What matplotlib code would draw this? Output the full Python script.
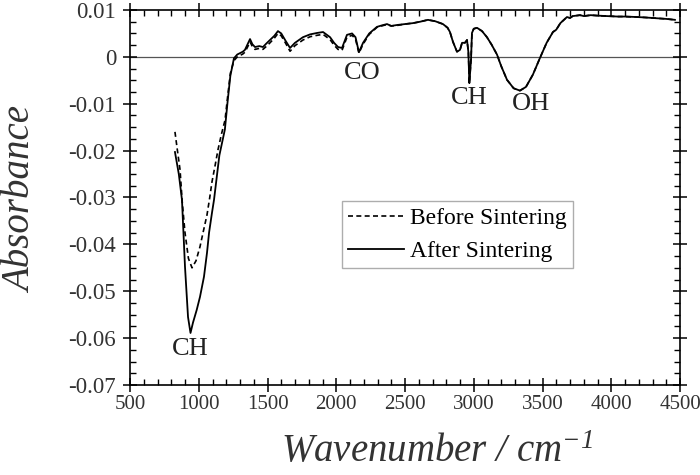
import matplotlib
matplotlib.use('Agg')
import matplotlib.pyplot as plt
from matplotlib.ticker import MultipleLocator

plt.rcParams['font.family'] = 'Liberation Serif'
plt.rcParams['mathtext.fontset'] = 'custom'
plt.rcParams['mathtext.rm'] = 'Liberation Serif:italic'
plt.rcParams['mathtext.it'] = 'Liberation Serif:italic'

# After sintering (solid)
wn_after = [827, 855, 878, 900, 922, 940, 958, 985, 1009, 1038, 1060, 1075, 1096, 1111,
            1150, 1190, 1210, 1230, 1256, 1280, 1300, 1320, 1336, 1360, 1373, 1390, 1409,
            1440, 1467, 1490, 1518, 1550, 1576, 1600, 1630, 1664, 1700, 1758, 1810, 1860,
            1904, 1955, 1984, 2013, 2042, 2078, 2115, 2140, 2165, 2195, 2240, 2296, 2330,
            2369, 2400, 2442, 2500, 2558, 2610, 2667, 2720, 2776, 2810, 2827, 2849, 2878,
            2900, 2915, 2936, 2951, 2961, 2968, 2972, 2980, 2987, 3000, 3024, 3060, 3096,
            3130, 3169, 3200, 3242, 3290, 3336, 3380, 3430, 3482, 3530, 3576, 3600, 3630,
            3678, 3700, 3720, 3773, 3800, 3850, 3900, 3970, 4050, 4100, 4187, 4250, 4300,
            4400, 4463]
abs_after = [-0.0203, -0.0250, -0.0305, -0.0448, -0.0555, -0.0589, -0.0567, -0.0540, -0.0512,
             -0.0469, -0.0418, -0.0375, -0.0333, -0.0305, -0.0210, -0.0155, -0.0095, -0.0040,
             -0.0003, 0.0005, 0.0008, 0.0011, 0.0015, 0.0030, 0.0038, 0.0027, 0.0021, 0.0023,
             0.0021, 0.0028, 0.0036, 0.0045, 0.0055, 0.0050, 0.0035, 0.0019, 0.0030, 0.0042,
             0.0048, 0.0051, 0.0053, 0.0042, 0.0030, 0.0021, 0.0019, 0.0047, 0.0050, 0.0042,
             0.0010, 0.0030, 0.0050, 0.0064, 0.0067, 0.0070, 0.0066, 0.0068, 0.0070, 0.0072,
             0.0075, 0.0079, 0.0076, 0.0070, 0.0062, 0.0053, 0.0032, 0.0011, 0.0015, 0.0030,
             0.0030, 0.0036, 0.0010, -0.0056, -0.0040, -0.0007, 0.0051, 0.0060, 0.0062,
             0.0055, 0.0042, 0.0026, 0.0005, -0.0020, -0.0049, -0.0067, -0.0072, -0.0064,
             -0.0038, -0.0002, 0.0030, 0.0053, 0.0058, 0.0072, 0.0085, 0.0083, 0.0087, 0.0089,
             0.0087, 0.0089, 0.0088, 0.0087, 0.0086, 0.0086, 0.0085, 0.0084, 0.0083, 0.0081,
             0.0079]

# Before sintering (dashed)
wn_before = [827, 845, 864, 880, 900, 925, 951, 980, 1009, 1035, 1060, 1080, 1096, 1120,
             1140, 1165, 1191, 1210, 1230, 1256, 1280, 1300, 1320, 1336, 1360, 1373, 1390,
             1409, 1440, 1467, 1490, 1518, 1550, 1576, 1600, 1630, 1664, 1700, 1758, 1810,
             1860, 1904, 1955, 1984, 2013, 2042, 2078, 2115, 2140, 2165, 2195, 2240, 2296,
             2330, 2369, 2400, 2442, 2500, 2558, 2610, 2667, 2720, 2776, 2810, 2827, 2849,
             2878, 2900, 2915, 2936, 2951, 2961, 2968, 2972, 2980, 2987, 3000, 3024, 3060,
             3096, 3130, 3169, 3200, 3242, 3290, 3336, 3380, 3430, 3482, 3530, 3576, 3600,
             3630, 3678, 3700, 3720, 3773, 3800, 3850, 3900, 3970, 4050, 4100, 4187, 4250,
             4300, 4400, 4463]
abs_before = [-0.0160, -0.0200, -0.0241, -0.0310, -0.0375, -0.0430, -0.0450, -0.0435,
              -0.0405, -0.0370, -0.0337, -0.0300, -0.0267, -0.0230, -0.0198, -0.0165,
              -0.0135, -0.0085, -0.0035, -0.0008, 0.0000, 0.0003, 0.0006, 0.0010, 0.0024,
              0.0032, 0.0022, 0.0016, 0.0018, 0.0016, 0.0022, 0.0030, 0.0040, 0.0050,
              0.0045, 0.0030, 0.0012, 0.0024, 0.0036, 0.0043, 0.0046, 0.0048, 0.0037,
              0.0025, 0.0016, 0.0014, 0.0042, 0.0046, 0.0038, 0.0008, 0.0027, 0.0048,
              0.0063, 0.0066, 0.0069, 0.0066, 0.0067, 0.0070, 0.0072, 0.0075, 0.0079,
              0.0076, 0.0070, 0.0062, 0.0053, 0.0032, 0.0011, 0.0015, 0.0030, 0.0030,
              0.0036, 0.0010, -0.0056, -0.0040, -0.0007, 0.0051, 0.0060, 0.0062, 0.0055,
              0.0042, 0.0026, 0.0005, -0.0020, -0.0049, -0.0067, -0.0072, -0.0064, -0.0038,
              -0.0002, 0.0030, 0.0053, 0.0058, 0.0072, 0.0085, 0.0083, 0.0087, 0.0089,
              0.0087, 0.0089, 0.0088, 0.0087, 0.0086, 0.0086, 0.0085, 0.0084, 0.0083,
              0.0081, 0.0079]

peak_labels = ['CH', 'CO', 'CH', 'OH']
peak_x = [936, 2190, 2966, 3416]
peak_y = [-0.0624, -0.0034, -0.0088, -0.0100]

ytick_vals = [-0.07, -0.06, -0.05, -0.04, -0.03, -0.02, -0.01, 0, 0.01]
ytick_text = ['-0.07', '-0.06', '-0.05', '-0.04', '-0.03', '-0.02', '-0.01', '0', '0.01']

fig = plt.figure(figsize=(7, 4.75), dpi=100)
ax = fig.add_axes([130/700, 90/475, 550/700, 375/475])

ax.axhline(0, color='#555555', lw=0.9, zorder=1)
ax.plot(wn_before, abs_before, color='black', lw=1.2, ls=(0, (3, 2)), label='Before Sintering')
ax.plot(wn_after, abs_after, color='black', lw=1.3, label='After Sintering')

for t, x, y in zip(peak_labels, peak_x, peak_y):
    ax.text(x, y, t, ha='center', va='center', fontsize=19, color='#222222')

ax.set_xlim(500, 4500)
ax.set_ylim(-0.07, 0.01)
ax.xaxis.set_major_locator(MultipleLocator(500))
ax.xaxis.set_minor_locator(MultipleLocator(100))
ax.set_yticks(ytick_vals)
ax.set_yticklabels(ytick_text)
ax.yaxis.set_minor_locator(MultipleLocator(0.0025))

ax.tick_params(which='major', direction='inout', length=10, width=1.1,
               top=True, right=True, labelcolor='#333333')
ax.tick_params(axis='y', which='major', pad=5, labelsize=16.5)
ax.tick_params(axis='x', which='major', pad=2, labelsize=15)
ax.tick_params(which='minor', direction='in', length=4, width=1,
               top=True, right=True)
for s in ax.spines.values():
    s.set_linewidth(1.2)

fig.text(437/700, 1 - 462/475, 'Wavenumber / cm$^{-1}$', fontsize=28, style='italic',
         color='#333333', ha='center', va='baseline')
fig.text(22/700, 1 - 200/475, 'Absorbance', fontsize=28, style='italic',
         color='#333333', ha='center', va='center', rotation=90)

leg = ax.legend(loc='lower left', bbox_to_anchor=(0.385, 0.312), fontsize=17,
                frameon=True, fancybox=False, handlelength=2.4, handletextpad=0.25,
                borderpad=0.25, labelspacing=0.5, borderaxespad=0)
leg.get_frame().set_edgecolor('#999999')
leg.get_frame().set_linewidth(1)

fig.savefig('out.png', dpi=100)
